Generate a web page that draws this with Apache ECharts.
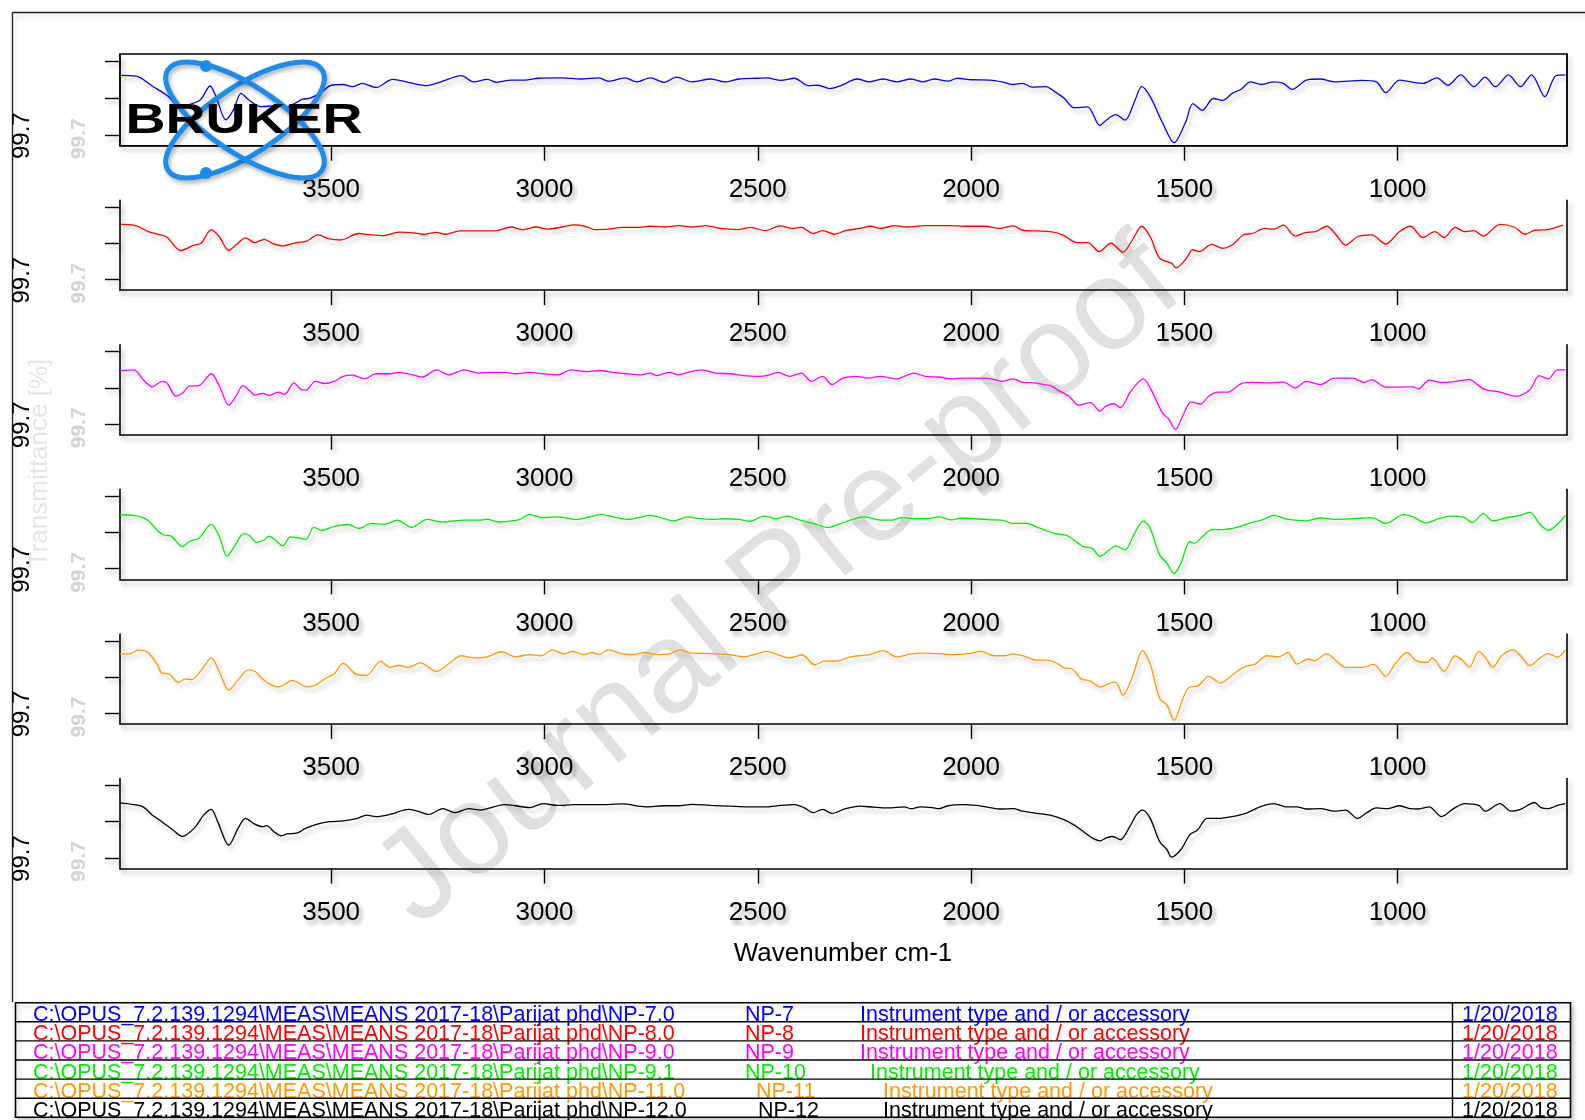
<!DOCTYPE html>
<html><head><meta charset="utf-8">
<script src="https://cdn.jsdelivr.net/npm/echarts@6/dist/echarts.min.js"></script>
<style>html,body{margin:0;padding:0;background:#fff}#c{width:1585px;height:1120px}</style>
</head><body><div id="c"></div>
<script>
// ---------- data ----------
const xTicks = [1000, 1500, 2000, 2500, 3000, 3500];
const yTicks = [0, 10, 20];
const xLabelName = 'Wavenumber cm-1';
const yLabelName = 'Transmittance [%]';
const yTickText = '99.7';

const np7 = [[3995,16.3],[3957,16.1],[3917,13.2],[3881,10.5],[3854,7.3],[3842,8.0],[3807,9.6],[3784,13.4],[3770,10.5],[3747,4.2],[3729,6.9],[3711,11.4],[3693,9.6],[3666,7.8],[3630,8.0],[3608,7.6],[3585,8.7],[3567,9.8],[3549,10.1],[3522,11.8],[3500,13.6],[3472,13.8],[3450,13.2],[3428,14.1],[3395,13.0],[3356,15.2],[3319,14.4],[3275,13.5],[3243,14.5],[3195,16.2],[3166,14.5],[3134,15.2],[3112,14.4],[3079,15.0],[3046,15.0],[3014,15.5],[2959,15.6],[2915,15.3],[2872,15.6],[2850,14.7],[2811,15.6],[2784,14.5],[2752,15.6],[2719,14.4],[2691,15.8],[2654,14.5],[2610,15.3],[2577,14.5],[2544,15.3],[2501,15.5],[2479,15.6],[2446,14.9],[2414,15.5],[2381,13.5],[2359,13.6],[2331,12.7],[2305,13.5],[2267,15.3],[2239,14.5],[2206,15.3],[2174,14.5],[2141,15.3],[2113,14.5],[2086,15.3],[2054,14.7],[2032,15.5],[1999,15.1],[1955,15.0],[1923,14.4],[1901,13.8],[1879,14.1],[1857,13.1],[1825,13.2],[1803,11.8],[1781,10.0],[1759,7.5],[1727,7.7],[1698,2.7],[1683,4.1],[1661,5.6],[1639,4.1],[1617,9.1],[1600,13.2],[1580,10.5],[1552,3.6],[1524,-2.0],[1497,3.6],[1480,8.6],[1458,6.8],[1432,10.0],[1410,9.5],[1388,11.4],[1367,12.5],[1345,14.5],[1319,13.8],[1290,14.5],[1268,14.1],[1247,12.5],[1214,15.0],[1181,15.3],[1148,14.5],[1083,14.9],[1050,14.5],[1028,11.6],[996,15.0],[963,14.4],[941,14.1],[908,15.6],[882,13.6],[852,16.4],[821,13.2],[795,15.8],[771,13.2],[740,16.4],[712,13.2],[686,16.4],[655,10.5],[629,16.2],[607,16.4]];

const np8 = [[3995,15.2],[3962,15.0],[3930,13.3],[3908,12.5],[3886,11.8],[3853,8.0],[3821,9.5],[3805,10.0],[3781,13.8],[3762,11.8],[3740,8.0],[3723,9.5],[3701,11.5],[3679,10.2],[3657,11.1],[3635,9.8],[3613,9.3],[3581,10.2],[3559,10.5],[3531,12.3],[3504,11.2],[3478,10.9],[3435,12.7],[3406,12.3],[3378,12.1],[3341,13.1],[3308,12.9],[3286,12.5],[3253,13.0],[3232,12.5],[3199,13.4],[3155,13.4],[3112,13.5],[3079,14.5],[3051,13.8],[3020,14.5],[2992,13.9],[2959,14.5],[2931,15.1],[2904,14.7],[2883,13.8],[2850,13.9],[2817,14.4],[2784,14.4],[2752,14.7],[2719,14.5],[2686,14.9],[2654,14.5],[2621,14.9],[2588,14.1],[2545,13.8],[2516,14.4],[2483,13.5],[2446,14.8],[2420,14.1],[2398,14.4],[2370,12.7],[2348,13.5],[2320,12.5],[2294,13.5],[2261,14.1],[2235,14.7],[2213,14.1],[2178,14.9],[2152,14.5],[2108,14.9],[2054,14.9],[2010,14.7],[1966,14.7],[1934,14.1],[1901,14.8],[1879,13.6],[1846,13.4],[1814,13.2],[1785,12.3],[1753,10.2],[1726,10.2],[1700,7.7],[1672,10.0],[1644,7.5],[1622,10.9],[1600,14.7],[1580,11.8],[1558,5.9],[1530,4.5],[1519,3.2],[1497,5.5],[1480,8.2],[1465,7.7],[1436,9.7],[1410,8.6],[1388,9.5],[1362,12.3],[1340,12.7],[1312,14.1],[1290,13.9],[1268,15.0],[1240,12.0],[1214,13.0],[1192,13.2],[1166,14.7],[1144,12.3],[1122,9.5],[1094,11.8],[1061,12.3],[1028,9.8],[996,13.2],[970,14.7],[941,11.6],[913,13.2],[891,11.6],[865,14.4],[843,13.2],[821,13.5],[799,12.0],[760,15.2],[727,14.5],[701,12.5],[679,13.6],[647,13.8],[612,15.0]];

const np9 = [[3995,14.8],[3962,15.0],[3941,12.3],[3919,10.3],[3897,11.7],[3886,11.5],[3864,7.7],[3849,8.5],[3832,10.5],[3810,10.6],[3781,13.9],[3762,10.5],[3740,5.2],[3723,7.7],[3707,10.6],[3690,9.1],[3679,8.0],[3661,8.5],[3646,7.9],[3624,8.8],[3609,8.2],[3587,11.4],[3570,9.5],[3559,9.4],[3537,11.8],[3515,11.2],[3493,11.8],[3472,13.2],[3450,13.5],[3421,12.5],[3395,13.9],[3363,13.9],[3341,14.3],[3308,13.6],[3286,13.0],[3253,15.0],[3225,13.6],[3188,15.0],[3155,14.1],[3123,14.3],[3094,14.3],[3068,13.9],[3035,14.3],[3003,13.9],[2970,13.6],[2937,15.0],[2904,14.5],[2872,14.8],[2839,14.3],[2806,13.9],[2774,13.6],[2752,14.1],[2736,13.4],[2708,14.3],[2686,13.6],[2664,14.3],[2632,15.0],[2599,14.1],[2566,13.9],[2534,13.4],[2501,13.2],[2479,13.4],[2453,14.3],[2425,13.2],[2398,14.1],[2374,11.8],[2348,13.2],[2326,10.9],[2300,12.7],[2272,13.2],[2239,12.7],[2213,13.2],[2174,12.5],[2134,14.1],[2108,13.2],[2076,13.0],[2043,12.5],[2010,12.7],[1977,12.7],[1945,12.3],[1929,11.8],[1901,12.5],[1879,11.5],[1851,11.4],[1829,10.9],[1814,10.6],[1792,9.1],[1770,7.7],[1748,5.2],[1720,5.9],[1698,3.6],[1683,5.0],[1665,5.6],[1650,4.5],[1628,8.6],[1613,10.9],[1596,12.5],[1578,9.5],[1552,3.2],[1537,1.4],[1521,-1.5],[1502,2.7],[1484,6.1],[1462,5.5],[1443,7.7],[1421,8.8],[1399,8.8],[1366,11.2],[1340,11.5],[1301,11.4],[1268,11.6],[1240,10.0],[1214,11.8],[1181,10.9],[1148,12.7],[1105,12.7],[1078,11.5],[1061,12.3],[1028,10.2],[996,10.2],[963,10.3],[952,9.7],[926,12.1],[897,11.5],[865,11.8],[832,12.3],[799,9.7],[760,8.8],[723,7.7],[690,9.5],[668,13.4],[647,12.5],[625,15.0],[607,15.0]];

const np10 = [[3995,14.9],[3962,14.7],[3930,13.4],[3908,10.6],[3893,9.3],[3875,9.0],[3849,6.1],[3832,7.5],[3810,8.4],[3781,12.3],[3762,8.8],[3744,3.4],[3727,6.1],[3705,9.7],[3690,9.0],[3675,7.2],[3657,7.9],[3646,9.0],[3631,7.9],[3613,6.3],[3596,8.8],[3581,8.6],[3559,8.1],[3541,11.4],[3522,10.6],[3493,11.7],[3461,12.2],[3435,11.1],[3406,12.5],[3373,12.3],[3345,13.4],[3312,11.4],[3275,13.6],[3243,12.9],[3221,13.1],[3188,13.4],[3155,13.4],[3134,13.6],[3107,12.9],[3079,13.2],[3057,13.6],[3035,15.0],[3007,14.1],[2970,14.3],[2926,13.6],[2894,14.3],[2865,15.0],[2839,14.3],[2806,13.6],[2780,14.1],[2752,14.7],[2719,13.8],[2697,13.2],[2664,14.3],[2636,13.8],[2610,13.6],[2577,13.8],[2544,13.6],[2518,13.1],[2486,14.5],[2457,13.8],[2431,14.5],[2403,13.5],[2370,12.5],[2337,11.4],[2305,12.5],[2283,13.4],[2250,14.3],[2217,13.5],[2185,13.4],[2163,14.1],[2130,13.8],[2104,13.8],[2075,14.3],[2047,13.5],[2021,14.0],[1988,13.8],[1955,13.5],[1929,13.4],[1901,12.5],[1868,12.5],[1846,11.5],[1825,10.6],[1803,9.7],[1781,9.3],[1770,8.8],[1737,6.1],[1716,5.6],[1698,3.4],[1676,5.2],[1661,6.3],[1639,5.2],[1617,9.7],[1596,13.2],[1580,11.1],[1558,3.8],[1541,1.5],[1524,-1.4],[1508,1.5],[1487,7.5],[1476,7.0],[1458,8.8],[1436,10.8],[1410,10.8],[1377,11.4],[1349,12.5],[1319,13.4],[1290,14.7],[1257,13.6],[1214,13.2],[1181,14.0],[1148,13.6],[1105,13.8],[1061,14.1],[1028,12.5],[985,15.0],[963,14.3],[934,12.6],[904,13.8],[876,14.5],[843,14.1],[825,12.7],[799,15.2],[777,13.2],[744,14.1],[712,14.7],[690,15.6],[668,12.5],[647,10.6],[625,12.3],[607,14.7]];

const np11 = [[3995,16.4],[3973,16.4],[3952,17.5],[3930,16.8],[3908,13.6],[3897,11.1],[3880,10.9],[3858,8.5],[3842,9.5],[3827,9.3],[3805,11.8],[3781,15.3],[3762,11.4],[3740,6.4],[3718,9.3],[3694,12.0],[3679,11.6],[3661,9.5],[3646,8.2],[3624,7.3],[3609,8.0],[3592,9.1],[3576,8.4],[3559,7.3],[3537,7.7],[3515,9.5],[3493,10.9],[3472,13.8],[3443,10.9],[3417,10.5],[3384,14.4],[3363,12.7],[3341,13.2],[3319,12.7],[3291,13.9],[3253,11.6],[3225,13.6],[3195,15.9],[3166,15.3],[3134,15.6],[3101,17.0],[3068,15.6],[3035,16.2],[3007,15.9],[2981,17.5],[2955,16.4],[2933,17.1],[2909,16.2],[2887,16.8],[2872,16.2],[2850,17.5],[2817,16.4],[2795,16.2],[2763,16.8],[2736,16.2],[2708,16.4],[2682,17.5],[2654,16.6],[2610,16.5],[2566,16.2],[2534,15.6],[2501,16.4],[2479,17.1],[2453,16.2],[2425,15.3],[2396,16.1],[2366,13.4],[2344,14.4],[2311,14.5],[2283,15.6],[2261,15.9],[2239,16.2],[2206,17.3],[2174,15.6],[2141,16.4],[2108,16.6],[2076,16.5],[2043,16.2],[2010,16.4],[1977,17.1],[1945,15.9],[1923,15.9],[1901,16.4],[1879,15.9],[1846,14.7],[1825,14.7],[1803,14.1],[1781,12.5],[1764,12.3],[1742,9.5],[1720,8.9],[1698,7.3],[1672,8.4],[1661,8.6],[1644,5.0],[1622,10.0],[1598,17.3],[1580,13.6],[1558,4.1],[1541,2.3],[1524,-2.0],[1502,4.5],[1487,7.3],[1469,7.5],[1443,10.2],[1415,8.4],[1388,10.5],[1362,12.7],[1334,13.6],[1306,15.9],[1279,15.6],[1257,16.8],[1236,13.6],[1209,15.0],[1196,14.5],[1166,16.4],[1144,14.5],[1122,12.7],[1083,12.7],[1056,13.5],[1028,10.2],[1006,13.6],[978,16.8],[956,14.5],[930,14.1],[919,15.3],[891,11.6],[865,15.9],[847,14.5],[832,12.7],[810,17.1],[795,15.5],[777,12.7],[756,15.9],[729,17.5],[712,15.9],[690,13.2],[664,15.5],[647,16.5],[625,15.5],[607,17.5]];

const np12 = [[3995,15.2],[3967,14.8],[3941,14.1],[3919,11.8],[3897,10.0],[3871,7.7],[3849,5.9],[3821,8.2],[3799,11.8],[3781,13.4],[3766,10.0],[3740,3.5],[3718,8.2],[3701,10.9],[3679,9.3],[3661,8.6],[3651,8.9],[3635,7.3],[3618,6.1],[3603,6.6],[3581,6.8],[3559,8.2],[3526,9.5],[3504,10.0],[3472,10.2],[3439,10.9],[3417,11.8],[3395,11.4],[3363,12.0],[3319,13.4],[3297,12.9],[3271,12.0],[3238,13.6],[3210,12.5],[3177,13.6],[3149,13.2],[3127,13.8],[3094,14.7],[3068,14.4],[3035,13.9],[3003,15.0],[2970,14.5],[2926,14.7],[2872,14.7],[2817,14.9],[2763,14.1],[2719,14.4],[2686,14.4],[2654,14.8],[2610,14.5],[2566,14.3],[2523,14.1],[2479,14.1],[2446,14.5],[2414,14.7],[2392,13.9],[2370,12.5],[2348,13.4],[2326,12.3],[2294,13.6],[2261,14.3],[2228,14.0],[2195,13.8],[2156,14.1],[2141,13.6],[2119,14.1],[2091,13.9],[2075,13.6],[2054,14.4],[2021,14.7],[1988,14.5],[1966,14.1],[1934,13.5],[1901,13.6],[1879,12.9],[1846,12.3],[1814,11.8],[1781,10.5],[1759,9.1],[1737,7.3],[1716,5.5],[1698,4.7],[1683,5.5],[1668,5.9],[1650,5.0],[1628,8.6],[1613,11.8],[1598,13.2],[1580,10.9],[1558,4.5],[1541,2.3],[1530,0.2],[1508,2.3],[1487,6.4],[1469,7.7],[1447,10.9],[1421,10.9],[1388,11.4],[1356,12.3],[1323,14.1],[1290,15.0],[1262,14.1],[1236,14.1],[1214,13.5],[1181,13.6],[1148,12.9],[1122,13.2],[1094,10.9],[1072,12.5],[1050,13.8],[1022,13.6],[996,14.4],[970,13.6],[952,13.5],[926,14.1],[897,11.4],[869,13.6],[843,15.0],[810,14.5],[795,12.9],[760,15.0],[734,12.9],[712,13.4],[679,15.3],[664,13.9],[647,13.6],[625,14.5],[607,15.0]];

const seriesNames = ['NP-7', 'NP-8', 'NP-9', 'NP-10', 'NP-11', 'NP-12'];
const seriesData = [np7, np8, np9, np10, np11, np12];
const filePaths = [
  'C:\\OPUS_7.2.139.1294\\MEAS\\MEANS 2017-18\\Parijat phd\\NP-7.0',
  'C:\\OPUS_7.2.139.1294\\MEAS\\MEANS 2017-18\\Parijat phd\\NP-8.0',
  'C:\\OPUS_7.2.139.1294\\MEAS\\MEANS 2017-18\\Parijat phd\\NP-9.0',
  'C:\\OPUS_7.2.139.1294\\MEAS\\MEANS 2017-18\\Parijat phd\\NP-9.1',
  'C:\\OPUS_7.2.139.1294\\MEAS\\MEANS 2017-18\\Parijat phd\\NP-11.0',
  'C:\\OPUS_7.2.139.1294\\MEAS\\MEANS 2017-18\\Parijat phd\\NP-12.0'
];
const instrumentText = 'Instrument type and / or accessory';
const dates = ['1/20/2018','1/20/2018','1/20/2018','1/20/2018','1/20/2018','1/20/2018'];
const watermark = 'Journal Pre-proof';
const logoText = 'BRUKER';

// ---------- styling / layout ----------
const colors = ['#0000ff', '#ff0000', '#ff00ff', '#00ee00', '#ff9900', '#000000'];
const FONT = 'Liberation Sans, Arial, sans-serif';
const bottoms = [145.7, 290.2, 434.8, 579.4, 724, 868.6];
const SH = {shadowColor: 'rgba(0,0,0,0.28)', shadowBlur: 4, shadowOffsetX: 3, shadowOffsetY: 4};
const TSH = {textShadowColor: 'rgba(0,0,0,0.35)', textShadowBlur: 4, textShadowOffsetX: 3, textShadowOffsetY: 4};

const grids = [], xAxes = [], yAxes = [], series = [], graphics = [];
bottoms.forEach((b, i) => {
  const first = i === 0;
  const top = first ? 54 : b - 90;
  const pxPerUnit = first ? 3.68 : 3.614;
  const tick0 = first ? 10.4 : 10.8;
  const yMin = -tick0 / pxPerUnit;
  const yMax = yMin + (b - top) / pxPerUnit;
  grids.push({left: 120, width: 1447, top: top, height: b - top, show: first,
    borderColor: '#000', borderWidth: 1.3, backgroundColor: 'transparent'});
  xAxes.push({type: 'value', gridIndex: i, inverse: true, min: 603, max: 3995,
    axisLine: {show: true, onZero: false, lineStyle: Object.assign({color: '#000', width: 1.6}, SH)},
    axisTick: {show: true, length: 15, customValues: xTicks, lineStyle: Object.assign({color: '#000', width: 1.4}, SH)},
    axisLabel: Object.assign({show: true, customValues: xTicks, margin: 31, fontSize: 26, fontFamily: FONT, color: '#000',
      formatter: v => String(v)}, TSH),
    splitLine: {show: false}});
  yAxes.push({type: 'value', gridIndex: i, min: yMin, max: yMax, position: 'left',
    axisLine: {show: true, onZero: false, lineStyle: Object.assign({color: '#000', width: 1.6}, SH)},
    axisTick: {show: true, length: 15, customValues: yTicks, lineStyle: Object.assign({color: '#000', width: 1.4}, SH)},
    axisLabel: {show: false}, splitLine: {show: false}});
  yAxes.push({type: 'value', gridIndex: i, min: yMin, max: yMax, position: 'right',
    axisLine: {show: true, onZero: false, lineStyle: Object.assign({color: '#000', width: 1.6}, SH)},
    axisTick: {show: false}, axisLabel: {show: false}, splitLine: {show: false}});
  series.push({type: 'line', name: seriesNames[i], xAxisIndex: i, yAxisIndex: 2 * i,
    data: seriesData[i], symbol: 'none', smooth: 0.3, z: 3,
    lineStyle: Object.assign({color: colors[i], width: 1.3}, SH)});

  // rotated y tick texts
  graphics.push({type: 'text', x: 22, y: b - 10, rotation: Math.PI / 2, z: 5,
    style: {text: yTickText, font: '24px ' + FONT, fill: '#000', align: 'center', verticalAlign: 'middle'}});
  graphics.push({type: 'text', x: 79, y: b - 7, rotation: Math.PI / 2, z: 1,
    style: {text: yTickText, font: 'bold 21px ' + FONT, fill: 'rgba(130,130,130,0.35)', align: 'center', verticalAlign: 'middle',
      shadowColor: 'rgba(110,110,110,1)', shadowBlur: 9}});
});

// outer frame
graphics.push({type: 'polyline', z: 1, shape: {points: [[12.5, 1002], [12.5, 12.5], [1590, 12.5]]},
  style: Object.assign({stroke: '#222', lineWidth: 1.3, fill: null}, {shadowColor: 'rgba(0,0,0,0.2)', shadowBlur: 5, shadowOffsetX: 2, shadowOffsetY: 3})});

// y axis name (faint, blurred)
graphics.push({type: 'text', x: 40, y: 463, rotation: Math.PI / 2, z: 1,
  style: {text: yLabelName, font: '26px ' + FONT, fill: 'rgba(150,150,150,0.25)', align: 'center', verticalAlign: 'middle',
    shadowColor: 'rgba(150,150,150,0.9)', shadowBlur: 9}});

// x axis name
graphics.push({type: 'text', x: 843, y: 954, z: 5,
  style: Object.assign({text: xLabelName, font: '26px ' + FONT, fill: '#000', align: 'center', verticalAlign: 'middle'},
    {shadowColor: 'rgba(0,0,0,0.35)', shadowBlur: 4, shadowOffsetX: 3, shadowOffsetY: 4})});

// watermark
graphics.push({type: 'text', x: 780, y: 584, rotation: 39.5 * Math.PI / 180, z: 0,
  style: {text: watermark, font: '129px ' + FONT, fill: 'rgba(0,0,0,0.12)', align: 'center', verticalAlign: 'middle'}});

// logo
const logoBlue = '#1a8cf0';
graphics.push({type: 'ellipse', z: 10, x: 245, y: 120, rotation: 0.58,
  shape: {cx: 0, cy: 0, rx: 92, ry: 34}, style: {stroke: logoBlue, lineWidth: 5, fill: null, shadowColor: 'rgba(0,0,0,0.3)', shadowBlur: 4, shadowOffsetX: 2, shadowOffsetY: 3}});
graphics.push({type: 'ellipse', z: 10, x: 245, y: 120, rotation: -0.58,
  shape: {cx: 0, cy: 0, rx: 92, ry: 34}, style: {stroke: logoBlue, lineWidth: 5, fill: null, shadowColor: 'rgba(0,0,0,0.3)', shadowBlur: 4, shadowOffsetX: 2, shadowOffsetY: 3}});
graphics.push({type: 'circle', z: 11, shape: {cx: 206, cy: 66, r: 6}, style: {fill: logoBlue}});
graphics.push({type: 'circle', z: 11, shape: {cx: 206, cy: 173, r: 6}, style: {fill: logoBlue}});
graphics.push({type: 'text', z: 12, x: 244, y: 121, scaleX: 1.32,
  style: {text: logoText, font: '900 42px ' + FONT, fill: '#000', align: 'center', verticalAlign: 'middle',
    shadowColor: 'rgba(0,0,0,0.45)', shadowBlur: 5, shadowOffsetX: 3, shadowOffsetY: 4}});

// table
const tLeft = 15.5, tRight = 1570.5, tTop = 1002.7, rowH = 19.1, dateSep = 1452.5;
const nameX = [745, 745, 745, 745, 756, 758];
const instX = [860, 860, 860, 870, 883, 883];
graphics.push({type: 'rect', z: 4, shape: {x: tLeft, y: tTop, width: tRight - tLeft, height: rowH * 6},
  style: {fill: '#fff', stroke: '#000', lineWidth: 1.6, shadowColor: 'rgba(0,0,0,0.25)', shadowBlur: 5, shadowOffsetX: 2, shadowOffsetY: 3}});
graphics.push({type: 'line', z: 6, shape: {x1: dateSep, y1: tTop, x2: dateSep, y2: tTop + rowH * 6}, style: {stroke: '#000', lineWidth: 1.4}});
for (let r = 0; r < 6; r++) {
  const lineY = tTop + rowH * (r + 1);
  if (r < 5) graphics.push({type: 'line', z: 6, shape: {x1: tLeft, y1: lineY, x2: tRight, y2: lineY}, style: {stroke: '#000', lineWidth: 1.4}});
  const ts = {font: '21.5px ' + FONT, fill: colors[r], align: 'left', verticalAlign: 'bottom',
    shadowColor: 'rgba(0,0,0,0.3)', shadowBlur: 4, shadowOffsetX: 3, shadowOffsetY: 4};
  const ty = lineY + 4.5;
  graphics.push({type: 'text', z: 5, x: 33, y: ty, style: Object.assign({text: filePaths[r]}, ts)});
  graphics.push({type: 'text', z: 5, x: nameX[r], y: ty, style: Object.assign({text: seriesNames[r]}, ts)});
  graphics.push({type: 'text', z: 5, x: instX[r], y: ty, style: Object.assign({text: instrumentText}, ts)});
  graphics.push({type: 'text', z: 5, x: 1462, y: ty, style: Object.assign({text: dates[r]}, ts)});
}

const chart = echarts.init(document.getElementById('c'), null, {renderer: 'canvas'});
chart.setOption({
  animation: false,
  backgroundColor: '#fff',
  grid: grids, xAxis: xAxes, yAxis: yAxes, series: series,
  graphic: {elements: graphics}
});
</script>
</body></html>
